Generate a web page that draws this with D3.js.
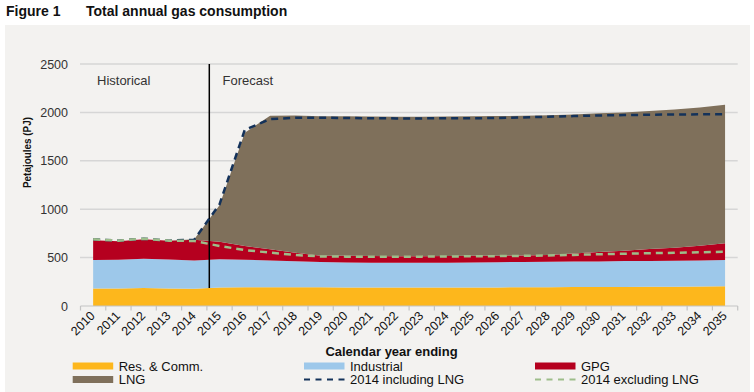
<!DOCTYPE html>
<html>
<head>
<meta charset="utf-8">
<script src="https://cdnjs.cloudflare.com/ajax/libs/d3/7.8.5/d3.min.js"></script>
<style>
	body { margin: 0; background: #ffffff; }
	svg { display: block; font-family: Arial, "Liberation Sans", sans-serif; }
</style>
</head>
<body>
<svg id="chart" width="754" height="392"></svg>
<script>
//=================== DATA ====================================
var years = ["2010","2011","2012","2013","2014","2015","2016","2017","2018","2019","2020","2021","2022",
	"2023","2024","2025","2026","2027","2028","2029","2030","2031","2032","2033","2034","2035"];

// stacked series, PJ
var resComm    = [180,182,185,180,178,190,193,194,194,193,192,191,190,190,190,191,192,193,194,195,196,197,198,199,201,203];
var industrial = [295,296,304,300,292,292,285,276,268,262,258,256,257,258,258,259,261,262,263,264,265,267,268,269,270,272];
var gpg        = [205,192,201,195,215,183,142,115,88,65,68,69,68,67,68,68,67,67,71,83,97,108,122,135,151,173];
var lng        = [0,0,0,0,5,375,1170,1380,1418,1440,1442,1442,1440,1440,1442,1442,1442,1443,1442,1436,1432,1428,1427,1427,1428,1432];

// 2014 forecast lines, PJ
var incLNG = [689,675,695,675,685,1050,1820,1930,1945,1945,1942,1940,1938,1938,1940,1940,1942,1948,1955,1962,1968,1972,1976,1978,1980,1982];
var excLNG = [689,675,695,675,672,620,578,551,527,512,510,510,510,510,512,513,515,518,522,528,535,540,545,550,555,560];

var yTicks = [0, 500, 1000, 1500, 2000, 2500];

var seriesNames  = ["Res. & Comm.", "Industrial", "GPG", "LNG"];
var seriesColour = ["#fdb71c", "#9dc8ea", "#b5001f", "#7f705b"];

//=================== SETUP ====================================
var svg = d3.select("#chart");

var x = d3.scaleBand().domain(years).range([80.5, 737.7]).padding(0);
var y = d3.scaleLinear().domain([0, 2500]).range([306, 64]);
var xc = function (yr) { return x(yr) + x.bandwidth() / 2; };

// table for the stack generator, built from the arrays above
var table = years.map(function (yr, i) {
	return { year: yr, "Res. & Comm.": resComm[i], "Industrial": industrial[i], "GPG": gpg[i], "LNG": lng[i] };
});
var stacked = d3.stack().keys(seriesNames)(table);

// grey panel and title
svg.append("rect").attr("x", 5).attr("y", 25).attr("width", 745).attr("height", 367).attr("fill", "#f3f2f0");

svg.append("text").attr("x", 6).attr("y", 16).attr("font-size", "14px").attr("font-weight", "bold")
	.attr("fill", "#111").text("Figure 1");
svg.append("text").attr("x", 86).attr("y", 16).attr("font-size", "14px").attr("font-weight", "bold")
	.attr("fill", "#111").text("Total annual gas consumption");

// gridlines + y labels
var yAxis = svg.append("g").attr("class", "y-axis");
yAxis.selectAll("line").data(yTicks.filter(function (d) { return d > 0; })).enter().append("line")
	.attr("x1", 80).attr("x2", 737.7)
	.attr("y1", function (d) { return y(d); }).attr("y2", function (d) { return y(d); })
	.attr("stroke", "#d6d6d6").attr("stroke-width", 1.5);
yAxis.selectAll("text").data(yTicks).enter().append("text")
	.attr("x", 68).attr("y", function (d) { return y(d) + 4.5; })
	.attr("text-anchor", "end").attr("font-size", "12.5px").attr("fill", "#333")
	.text(function (d) { return d; });

svg.append("text")
	.attr("transform", "translate(31,152.5) rotate(-90)")
	.attr("text-anchor", "middle").attr("font-size", "11.5px").attr("font-weight", "bold").attr("fill", "#111")
	.attr("textLength", 71).attr("lengthAdjust", "spacingAndGlyphs")
	.text("Petajoules (PJ)");

//=================== AREAS ====================================
var area = d3.area()
	.x(function (d) { return xc(d.data.year); })
	.y0(function (d) { return y(d[0]); })
	.y1(function (d) { return y(d[1]); });

svg.append("g").selectAll("path").data(stacked).enter().append("path")
	.attr("d", area)
	.attr("fill", function (d, i) { return seriesColour[i]; });

// historical / forecast divider
svg.append("line").attr("x1", 209.3).attr("x2", 209.3).attr("y1", 64).attr("y2", 288)
	.attr("stroke", "#000").attr("stroke-width", 1.5);
svg.append("text").attr("x", 97).attr("y", 85).attr("font-size", "13px").attr("fill", "#333").text("Historical");
svg.append("text").attr("x", 222.5).attr("y", 85).attr("font-size", "13px").attr("fill", "#333").text("Forecast");

//=================== DASHED LINES ====================================
var line = d3.line()
	.x(function (d, i) { return xc(years[i]); })
	.y(function (d) { return y(d); });

svg.append("path").attr("d", line(incLNG)).attr("fill", "none")
	.attr("stroke", "#14325a").attr("stroke-width", 2.5).attr("stroke-dasharray", "7,5");
svg.append("path").attr("d", line(excLNG)).attr("fill", "none")
	.attr("stroke", "#9dbd8a").attr("stroke-width", 2.5).attr("stroke-dasharray", "7,5");

//=================== X AXIS ====================================
var xAxis = svg.append("g").attr("class", "x-axis");
xAxis.append("line").attr("x1", 80.5).attr("x2", 737.7).attr("y1", 306).attr("y2", 306)
	.attr("stroke", "#c4c4c4").attr("stroke-width", 1.2);
var tickPos = years.map(function (yr) { return x(yr); }).concat([x.range()[1]]);
xAxis.selectAll("line.tick").data(tickPos).enter().append("line").attr("class", "tick")
	.attr("x1", function (d) { return d; }).attr("x2", function (d) { return d; })
	.attr("y1", 306).attr("y2", 310.5)
	.attr("stroke", "#c4c4c4").attr("stroke-width", 1.2);
xAxis.selectAll("text").data(years).enter().append("text")
	.attr("transform", function (d) { return "translate(" + (xc(d) + 2.5) + ",316.5) rotate(-45)"; })
	.attr("text-anchor", "end").attr("font-size", "12.5px").attr("fill", "#111")
	.text(function (d) { return d; });

svg.append("text").attr("x", 391.5).attr("y", 356).attr("text-anchor", "middle")
	.attr("font-size", "13px").attr("font-weight", "bold").attr("fill", "#111").text("Calendar year ending");

//=================== LEGEND ====================================
var legendItems = [
	{ name: "Res. & Comm.", kind: "area", colour: seriesColour[0], col: 0, row: 0 },
	{ name: "Industrial", kind: "area", colour: seriesColour[1], col: 1, row: 0 },
	{ name: "GPG", kind: "area", colour: seriesColour[2], col: 2, row: 0 },
	{ name: "LNG", kind: "area", colour: seriesColour[3], col: 0, row: 1 },
	{ name: "2014 including LNG", kind: "dash", colour: "#14325a", col: 1, row: 1 },
	{ name: "2014 excluding LNG", kind: "dash", colour: "#9dbd8a", col: 2, row: 1 }
];
var legendX = [72.7, 304, 535];
var legendY = [366, 379.5];

var lg = svg.append("g").selectAll("g").data(legendItems).enter().append("g")
	.attr("transform", function (d) { return "translate(" + legendX[d.col] + "," + legendY[d.row] + ")"; });
lg.filter(function (d) { return d.kind == "area"; }).append("rect")
	.attr("x", 0).attr("y", -3.5).attr("width", 40.5).attr("height", 7)
	.attr("fill", function (d) { return d.colour; });
lg.filter(function (d) { return d.kind == "dash"; }).append("line")
	.attr("x1", 0).attr("x2", 41).attr("y1", 0).attr("y2", 0)
	.attr("stroke", function (d) { return d.colour; }).attr("stroke-width", 2)
	.attr("stroke-dasharray", "6,5.5");
lg.append("text").attr("x", 46).attr("y", 4.5).attr("font-size", "13px").attr("fill", "#111")
	.text(function (d) { return d.name; });
</script>
</body>
</html>
